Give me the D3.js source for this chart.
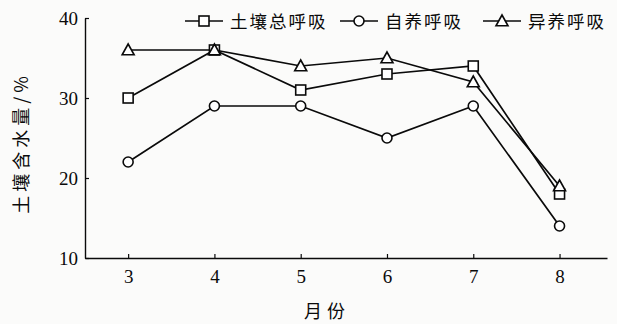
<!DOCTYPE html>
<html>
<head>
<meta charset="utf-8">
<script src="https://cdn.jsdelivr.net/npm/d3@7"></script>
<style>
  html, body { margin: 0; padding: 0; background: #fbfbfa; }
  svg { display: block; }
</style>
</head>
<body>
<svg id="chart" width="617" height="324"></svg>
<script>
// Monthly soil water content under each respiration treatment
const months = [3, 4, 5, 6, 7, 8];
const totalResp = [30, 36, 31, 33, 34, 18];   // 土壤总呼吸
const autoResp = [22, 29, 29, 25, 29, 14];    // 自养呼吸
const heteroResp = [36, 36, 34, 35, 32, 19];  // 异养呼吸
const yTicks = [10, 20, 30, 40];
const seriesNames = ["土壤总呼吸", "自养呼吸", "异养呼吸"];

const series = [
  { name: seriesNames[0], values: totalResp, shape: "square" },
  { name: seriesNames[1], values: autoResp, shape: "circle" },
  { name: seriesNames[2], values: heteroResp, shape: "triangle" }
];

const svg = d3.select("#chart");
const ink = "#0a0a0a";
const numFont = "'Liberation Serif', 'Times New Roman', serif";
const cjkFont = "'Noto Sans CJK SC', sans-serif";

const x = d3.scaleLinear().domain([2.5, 8.55]).range([85, 607]);
const y = d3.scaleLinear().domain([10, 40]).range([258, 18]);

// Axes with inward ticks
const xAxis = d3.axisBottom(x).tickValues(months).tickFormat(d3.format("d"))
  .tickSizeInner(-4).tickSizeOuter(0).tickPadding(12);
const yAxis = d3.axisLeft(y).tickValues(yTicks).tickFormat(d3.format("d"))
  .tickSizeInner(-4).tickSizeOuter(0).tickPadding(7);

const gx = svg.append("g").attr("transform", `translate(0,${y(10)})`).call(xAxis);
const gy = svg.append("g").attr("transform", `translate(${x(2.5)},0)`).call(yAxis);

[gx, gy].forEach(g => {
  g.select(".domain").attr("stroke", ink).attr("stroke-width", 1.4);
  g.selectAll(".tick line").attr("stroke", ink).attr("stroke-width", 1.2);
  g.selectAll(".tick text")
    .attr("fill", ink)
    .style("font-family", numFont)
    .style("font-size", "19px");
});

// Axis titles
svg.append("text")
  .attr("x", 327).attr("y", 318)
  .attr("text-anchor", "middle")
  .attr("fill", ink)
  .style("font-family", cjkFont)
  .style("font-size", "18px")
  .style("letter-spacing", "5px")
  .text("月份");

svg.append("text")
  .attr("transform", "translate(28,143) rotate(-90)")
  .attr("text-anchor", "middle")
  .attr("fill", ink)
  .style("font-family", cjkFont)
  .style("font-size", "18px")
  .style("letter-spacing", "4px")
  .text("土壤含水量/%");

// Marker drawing shared by plot and legend
function drawMarker(g, shape, cx, cy) {
  if (shape === "square") {
    g.append("rect")
      .attr("x", cx - 5).attr("y", cy - 5)
      .attr("width", 10).attr("height", 10)
      .attr("fill", "#fff").attr("stroke", ink).attr("stroke-width", 1.6);
  } else if (shape === "circle") {
    g.append("circle")
      .attr("cx", cx).attr("cy", cy).attr("r", 5)
      .attr("fill", "#fff").attr("stroke", ink).attr("stroke-width", 1.6);
  } else {
    const s = 6;
    g.append("path")
      .attr("d", `M${cx},${cy - s}L${cx + s},${cy + s * 0.8}L${cx - s},${cy + s * 0.8}Z`)
      .attr("fill", "#fff").attr("stroke", ink).attr("stroke-width", 1.6);
  }
}

const line = d3.line().x((d, i) => x(months[i])).y(d => y(d));

const plot = svg.append("g");
series.forEach(s => {
  plot.append("path")
    .datum(s.values)
    .attr("d", line)
    .attr("fill", "none")
    .attr("stroke", ink)
    .attr("stroke-width", 1.7);
});
series.forEach(s => {
  const g = plot.append("g");
  s.values.forEach((v, i) => drawMarker(g, s.shape, x(months[i]), y(v)));
});

// Legend: short line with marker, then the series name
const legendX = [185, 340, 483];
const legend = svg.append("g");
series.forEach((s, i) => {
  const lx = legendX[i], ly = 21;
  const g = legend.append("g");
  g.append("line")
    .attr("x1", lx).attr("x2", lx + 38)
    .attr("y1", ly).attr("y2", ly)
    .attr("stroke", ink).attr("stroke-width", 1.7);
  drawMarker(g, s.shape, lx + 19, ly);
  g.append("text")
    .attr("x", lx + 45).attr("y", ly + 6.5)
    .attr("fill", ink)
    .style("font-family", cjkFont)
    .style("font-size", "17.5px")
    .style("letter-spacing", "2px")
    .text(s.name);
});
</script>
</body>
</html>
